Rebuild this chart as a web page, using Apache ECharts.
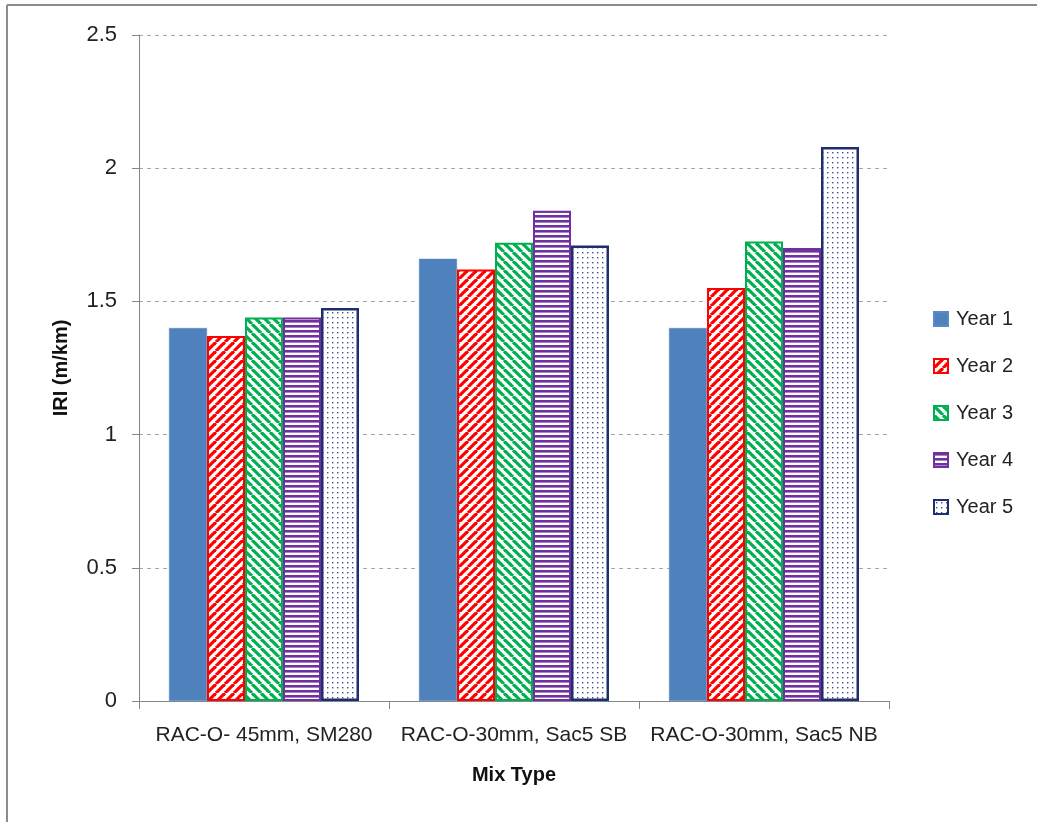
<!DOCTYPE html>
<html>
<head>
<meta charset="utf-8">
<script src="https://cdn.jsdelivr.net/npm/echarts@6/dist/echarts.min.js"></script>
<style>
html,body{margin:0;padding:0;background:#fff;}
#chart{width:1037px;height:822px;}
</style>
</head>
<body>
<div id="chart"></div>
<script>
const categories = ['RAC-O- 45mm, SM280', 'RAC-O-30mm, Sac5 SB', 'RAC-O-30mm, Sac5 NB'];
const seriesNames = ['Year 1', 'Year 2', 'Year 3', 'Year 4', 'Year 5'];
const year1 = [1.40, 1.66, 1.40];
const year2 = [1.37, 1.62, 1.55];
const year3 = [1.44, 1.72, 1.725];
const year4 = [1.44, 1.84, 1.70];
const year5 = [1.475, 1.71, 2.08];
const yTicks = { min: 0, max: 2.5, interval: 0.5 };

function makeTile(w, h, draw) {
  const c = document.createElement('canvas');
  c.width = w; c.height = h;
  const ctx = c.getContext('2d');
  ctx.fillStyle = '#ffffff';
  ctx.fillRect(0, 0, w, h);
  draw(ctx);
  return { image: c, repeat: 'repeat' };
}
const RED = '#FF0000', GREEN = '#00B050', PURPLE = '#7030A0', NAVY = '#1F2E6E', BLUE = '#4F81BD';

const patRed = makeTile(9, 9, ctx => {
  ctx.strokeStyle = RED; ctx.lineWidth = 3.2;
  for (let k = -9; k <= 18; k += 9) {
    ctx.beginPath(); ctx.moveTo(k, 9); ctx.lineTo(k + 9, 0); ctx.stroke();
  }
});
const patGreen = makeTile(9, 9, ctx => {
  ctx.strokeStyle = GREEN; ctx.lineWidth = 3.2;
  for (let k = -9; k <= 18; k += 9) {
    ctx.beginPath(); ctx.moveTo(k, 0); ctx.lineTo(k + 9, 9); ctx.stroke();
  }
});
const patPurple = makeTile(4, 5, ctx => {
  ctx.fillStyle = PURPLE; ctx.fillRect(0, 0, 4, 2.6);
});
const patNavy = makeTile(5, 5, ctx => {
  ctx.fillStyle = '#3A4F9A'; ctx.fillRect(2, 2, 1.4, 1.4);
});

const fontMain = '"Liberation Sans", Arial, sans-serif';

const values = [year1, year2, year3, year4, year5];
const styles = [
  { color: BLUE, borderColor: '#5A8AC6', borderWidth: 0.5 },
  { color: patRed, borderColor: RED, borderWidth: 2 },
  { color: patGreen, borderColor: GREEN, borderWidth: 2 },
  { color: patPurple, borderColor: PURPLE, borderWidth: 2 },
  { color: patNavy, borderColor: NAVY, borderWidth: 2.5 }
];

const chart = echarts.init(document.getElementById('chart'), null, { renderer: 'canvas' });
chart.setOption({
  animation: false,
  backgroundColor: '#ffffff',
  graphic: [
    { type: 'line', shape: { x1: 7, y1: 5, x2: 1037, y2: 5 }, style: { stroke: '#8C8C8C', lineWidth: 2 } },
    { type: 'line', shape: { x1: 7, y1: 5, x2: 7, y2: 822 }, style: { stroke: '#8C8C8C', lineWidth: 2 } }
  ],
  grid: { left: 139, right: 148, top: 35, bottom: 121, containLabel: false },
  legend: {
    orient: 'vertical',
    left: 928,
    top: 304,
    itemWidth: 14,
    itemHeight: 14,
    itemGap: 27,
    icon: 'rect',
    data: seriesNames,
    textStyle: { fontFamily: fontMain, fontSize: 20, color: '#222', padding: [0, 0, 0, 3] }
  },
  xAxis: {
    type: 'category',
    data: categories,
    boundaryGap: true,
    axisLine: { lineStyle: { color: '#868686', width: 1 } },
    axisTick: { show: true, length: 8, lineStyle: { color: '#868686' } },
    axisLabel: { fontFamily: fontMain, fontSize: 21, color: '#222', margin: 24, interval: 0 },
    name: 'Mix Type',
    nameLocation: 'middle',
    nameGap: 64,
    nameTextStyle: { fontFamily: fontMain, fontSize: 20, fontWeight: 'bold', color: '#111' }
  },
  yAxis: {
    type: 'value',
    min: yTicks.min, max: yTicks.max, interval: yTicks.interval,
    axisLine: { show: true, lineStyle: { color: '#868686', width: 1 } },
    axisTick: { show: true, length: 7, lineStyle: { color: '#868686' } },
    axisLabel: { fontFamily: fontMain, fontSize: 22, color: '#222', margin: 22 },
    splitLine: { show: true, lineStyle: { color: '#A6A6A6', type: [4, 4], width: 1 } },
    name: 'IRI (m/km)',
    nameLocation: 'middle',
    nameGap: 68,
    nameRotate: 90,
    nameTextStyle: { fontFamily: fontMain, fontSize: 20, fontWeight: 'bold', color: '#111' }
  },
  series: seriesNames.map((n, i) => ({
    name: n,
    type: 'bar',
    data: values[i],
    barGap: '0%',
    barCategoryGap: '24%',
    itemStyle: styles[i]
  }))
});
</script>
</body>
</html>
